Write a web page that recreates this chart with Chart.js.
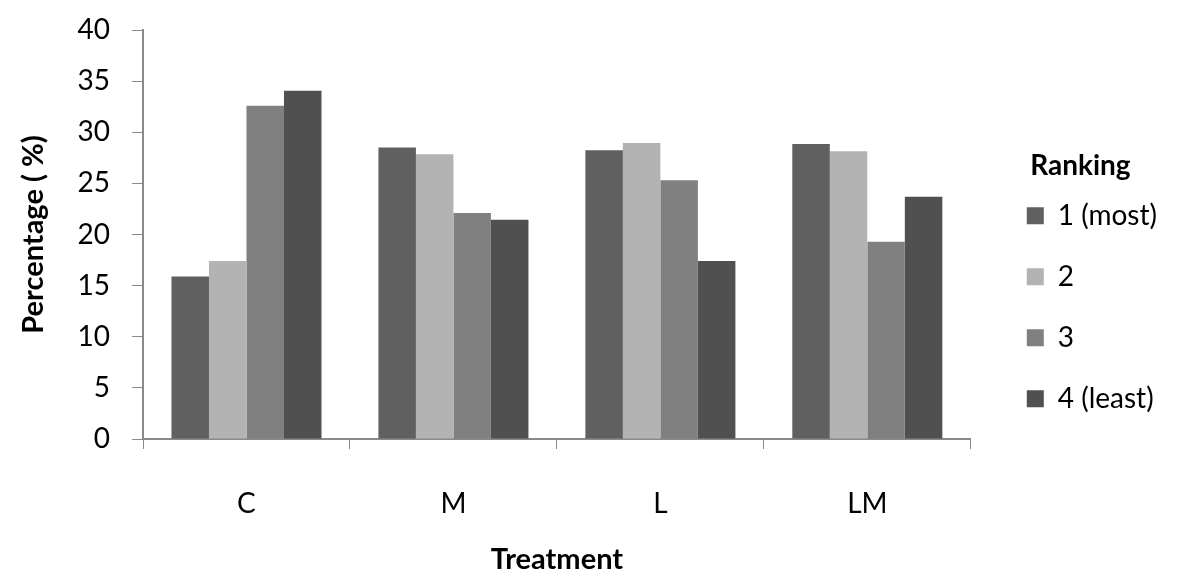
<!DOCTYPE html>
<html>
<head>
<meta charset="utf-8">
<script src="https://cdn.jsdelivr.net/npm/chart.js@4"></script>
<style>
  html, body { margin: 0; padding: 0; background: #fff; }
  #wrap { width: 1200px; height: 585px; position: relative; }
</style>
</head>
<body>
<div id="wrap"><canvas id="chart"></canvas></div>
<script>
// Percentage of respondents per ranking, by treatment
const treatments = ['C', 'M', 'L', 'LM'];
const rankLabels = ['1 (most)', '2', '3', '4 (least)'];
const rank1 = [15.9, 28.5, 28.25, 28.85];
const rank2 = [17.4, 27.85, 28.95, 28.15];
const rank3 = [32.6, 22.1, 25.3, 19.3];
const rank4 = [34.05, 21.45, 17.4, 23.7];
const yTicks = [0, 5, 10, 15, 20, 25, 30, 35, 40];

const BAR_COLORS = ['#606060', '#b3b3b3', '#808080', '#505050'];
const AXIS_COLOR = '#8a8a8a';
const FONT = 'Lato, "Open Sans", sans-serif';

Chart.defaults.font.family = FONT;
Chart.defaults.color = '#000';

const seriesValues = [rank1, rank2, rank3, rank4];

new Chart(document.getElementById('chart'), {
    type: 'bar',
    data: {
        labels: treatments,
        datasets: seriesValues.map((vals, i) => ({
            label: rankLabels[i],
            data: vals,
            backgroundColor: BAR_COLORS[i],
            borderWidth: 0,
            categoryPercentage: 0.725,
            barPercentage: 1.0,
        })),
    },
    options: {
        responsive: true,
        maintainAspectRatio: false,
        animation: false,
        layout: { padding: { top: 30, right: 33, left: 0, bottom: 0 } },
        plugins: {
            tooltip: { enabled: false },
            legend: {
                position: 'right',
                align: 'center',
                labels: {
                    boxWidth: 17,
                    boxHeight: 17,
                    padding: 33,
                    color: '#000',
                    font: { size: 28 },
                },
                title: {
                    display: true,
                    text: 'Ranking',
                    position: 'center',
                    color: '#000',
                    font: { size: 28, weight: 'bold' },
                    padding: { top: -17, bottom: -17 },
                },
            },
        },
        scales: {
            x: {
                afterFit: scale => { scale.height = 146; },
                grid: {
                    offset: true,
                    drawOnChartArea: false,
                    drawTicks: true,
                    tickLength: 10,
                    color: AXIS_COLOR,
                },
                border: { color: AXIS_COLOR, width: 2 },
                ticks: { font: { size: 28 }, color: '#000', padding: 38 },
                title: {
                    display: true,
                    text: 'Treatment',
                    color: '#000',
                    font: { size: 29, weight: 'bold' },
                    padding: { top: 0, bottom: 8 },
                },
            },
            y: {
                min: 0,
                max: 40,
                afterFit: scale => {
                    scale.width = 143;
                    scale.paddingTop = 0;
                    scale.paddingBottom = 0;
                },
                afterBuildTicks: scale => { scale.ticks = yTicks.map(v => ({ value: v })); },
                grid: {
                    drawOnChartArea: false,
                    drawTicks: true,
                    tickLength: 11,
                    color: AXIS_COLOR,
                },
                border: { color: AXIS_COLOR, width: 2 },
                ticks: { font: { size: 28 }, color: '#000', padding: 22 },
                title: {
                    display: true,
                    text: 'Percentage ( %)',
                    color: '#000',
                    font: { size: 29, weight: 'bold' },
                    padding: { top: 16, bottom: 0 },
                },
            },
            // empty spacer between the plot and the legend
            gap: {
                type: 'linear',
                position: 'right',
                afterFit: scale => { scale.width = 23; },
                grid: { display: false },
                border: { display: false },
                ticks: { display: false },
            },
        },
    },
});
</script>
</body>
</html>
